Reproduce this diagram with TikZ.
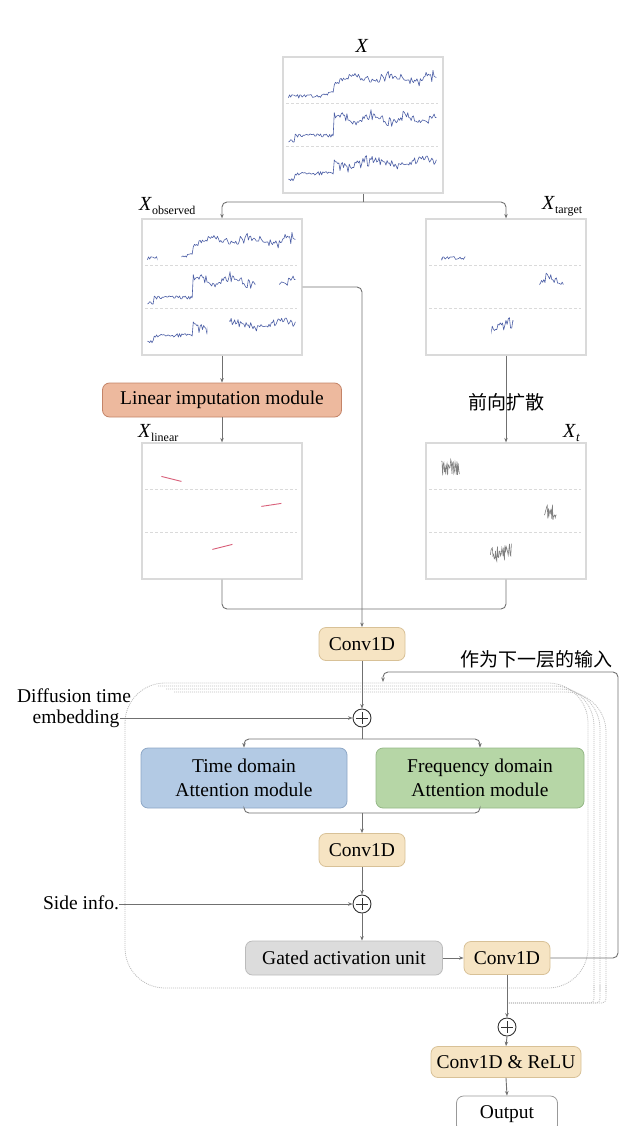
\documentclass[tikz,border=0pt]{standalone}
\usepackage{fontspec}
\setmainfont{Liberation Serif}
\newfontfamily\cjk{Noto Sans CJK SC}
\usetikzlibrary{arrows.meta,calc}
\definecolor{linec}{HTML}{707070}
\definecolor{orangef}{HTML}{EDB99E}
\definecolor{oranged}{HTML}{C48468}
\definecolor{convf}{HTML}{F6E4C3}
\definecolor{convd}{HTML}{D8C197}
\definecolor{bluef}{HTML}{B3CAE4}
\definecolor{blued}{HTML}{8EA7C6}
\definecolor{greenf}{HTML}{B6D6A6}
\definecolor{greend}{HTML}{95B887}
\definecolor{grayf}{HTML}{DCDCDC}
\definecolor{grayd}{HTML}{BBBBBB}
\definecolor{panelb}{HTML}{DADADA}
\definecolor{serc}{HTML}{4C5FA6}
\definecolor{framec}{HTML}{BDBDBD}
\definecolor{redc}{HTML}{D9607A}
\newcommand{\seriesrows}{%
  \pgfmathsetseed{1234}%
  \draw[ser] plot[domain=6:154,samples=130] (\x,{ifthenelse(\x<51,40+1.8*rand+ifthenelse(\x>40,-3,0),22+3*sin(9*\x)+6*rand*abs(rand)+2*rand)});
  \draw[ser] plot[domain=6:154,samples=130] (\x,{ifthenelse(\x<51,79+1.8*rand+ifthenelse(\x<12,5,0),62+3*sin(11*\x)+6*rand*abs(rand)+2*rand)});
  \draw[ser] plot[domain=6:154,samples=130] (\x,{ifthenelse(\x<51,117+1.8*rand+ifthenelse(\x<12,6,0),106+3*sin(7*\x)+7*rand*abs(rand)+2*rand)});
}
\newcommand{\seps}{%
  \draw[sepl] (4,47) -- (156,47);
  \draw[sepl] (4,90) -- (156,90);
}
\newcommand{\gapclip}{\clip (16,8) rectangle (40,46) (114,50) rectangle (138,89) (66,93) rectangle (88,133);}
\begin{document}
\begin{tikzpicture}[x=1pt,y=-1pt,
  txt/.style={font=\fontsize{19.5}{24}\selectfont, inner sep=0pt},
  box/.style={rounded corners=7pt, minimum height=33pt, inner sep=0pt, line width=0.8pt, align=center, font=\fontsize{19.5}{24}\selectfont},
  conv/.style={box, fill=convf, draw=convd, minimum width=86pt},
  panel/.style={draw=panelb, line width=1.2pt, fill=white, minimum width=160pt, minimum height=136pt, inner sep=0pt},
  conn/.style={draw=linec, line width=0.9pt},
  arr/.style={conn, -{Stealth[length=4.5pt,width=3.5pt]}},
  ser/.style={serc, line width=0.6pt, line join=round},
  sepl/.style={draw=panelb, line width=0.8pt, dash pattern=on 3pt off 2pt},
  framel/.style={draw=framec, line width=0.8pt, dash pattern=on 1pt off 1pt},
  sumnode/.style={circle, draw=black!80, line width=0.9pt, minimum size=18pt, inner sep=0pt, fill=white,
    path picture={\draw[black!80,line width=0.9pt] ([yshift=-3pt]path picture bounding box.north) -- ([yshift=3pt]path picture bounding box.south) ([xshift=3pt]path picture bounding box.west) -- ([xshift=-3pt]path picture bounding box.east);}},
]
\useasboundingbox (0,0) rectangle (628,1126);

% ---------- panels ----------
\node[panel] (pX) at (363,125) {};
\node[panel] (pObs) at (222,287) {};
\node[panel] (pTgt) at (506,287) {};
\node[panel] (pLin) at (222,511) {};
\node[panel] (pT) at (506,511) {};

\begin{scope}[shift={(pX.north west)}]
  \seps \seriesrows
\end{scope}
\begin{scope}[shift={(pObs.north west)}]
  \seps \seriesrows
  \fill[white] (16,8) rectangle (40,46) (114,50) rectangle (138,89) (66,93) rectangle (88,133);
\end{scope}
\begin{scope}[shift={(pTgt.north west)}]
  \seps
  \begin{scope}\gapclip \seriesrows\end{scope}
\end{scope}
\begin{scope}[shift={(pLin.north west)}]
  \seps
  \draw[redc, line width=0.9pt] (20,34) -- (40,39);
  \draw[redc, line width=0.9pt] (120,64) -- (140,61);
  \draw[redc, line width=0.9pt] (71,107) -- (91,102);
\end{scope}
\begin{scope}[shift={(pT.north west)}]
  \seps
  \pgfmathsetseed{99}
  \draw[gray, line width=0.6pt] plot[domain=16:34,samples=30] (\x,{25+8*rand});
  \draw[gray, line width=0.6pt] plot[domain=119:131,samples=22] (\x,{70+8*rand});
  \draw[gray, line width=0.6pt] plot[domain=65:86,samples=34] (\x,{110+9*rand});
\end{scope}

% ---------- labels ----------
\node[txt, anchor=base] (lX) at (362,53) {\fontsize{20}{24}\selectfont\textit{X}};
\node[txt, anchor=base west] (lObs) at (139,210) {\fontsize{20}{24}\selectfont\textit{X}\raisebox{-4pt}{\fontsize{12}{12}\selectfont observed}};
\node[txt, anchor=base west] (lTgt) at (542,209) {\fontsize{20}{24}\selectfont\textit{X}\raisebox{-4pt}{\fontsize{12}{12}\selectfont target}};
\node[txt, anchor=base west] (lLin) at (138,437) {\fontsize{20}{24}\selectfont\textit{X}\raisebox{-4pt}{\fontsize{12}{12}\selectfont linear}};
\node[txt, anchor=base west] (lT) at (563,437) {\fontsize{20}{24}\selectfont\textit{X}\raisebox{-4pt}{\fontsize{13}{13}\selectfont\textit{t}}};

% ---------- top connectors ----------
\coordinate (j1) at (363,202);
\draw[conn] (pX.south) -- (j1);
\draw[arr, rounded corners=5pt] (j1) -| (pObs.north);
\draw[arr, rounded corners=5pt] (j1) -| (pTgt.north);

\node[box, fill=orangef, draw=oranged, minimum width=239pt, minimum height=34pt] (lin) at (222,400) {Linear imputation module};
\draw[arr] (pObs.south) -- (lin.north);
\draw[arr] (lin.south) -- (pLin.north);

\draw[arr] (pTgt.south) -- (pT.north);
\node[txt, font=\cjk\fontsize{19}{22}\selectfont] (fwd) at (506,402) {前向扩散};

% ---------- Conv1D top ----------
\node[conv] (conv1) at (362,644) {Conv1D};
\draw[arr, rounded corners=5pt] (pObs.east) -| (conv1.north);
\coordinate (m1) at (362,609);
\draw[conn, rounded corners=5pt] (pLin.south) |- (m1) -| (pT.south);

% ---------- stacked frames ----------
\foreach \k in {1,2,3}{
  \draw[framel, rounded corners=40pt] (150+8*\k,683+3*\k) -- (588+6*\k,683+3*\k) -- (588+6*\k,992);
  \draw[framel, rounded corners=4pt] (588+6*\k,985) -- (588+6*\k,1003) -- (508,1003);
}
\draw[framel, rounded corners=40pt] (125,683) rectangle (588,988);

\node[txt, font=\cjk\fontsize{19}{22}\selectfont] (nxt) at (536,659) {作为下一层的输入};

% ---------- block ----------
\node[sumnode] (sum1) at (362,718) {};
\draw[arr] (conv1.south) -- (sum1.north);
\node[txt] (diff) at (74,696) {Diffusion time};
\node[txt] (emb) at (76,719) {embedding};
\draw[arr] (emb.east |- sum1) -- (sum1.west);

\node[box, fill=bluef, draw=blued, minimum width=206pt, minimum height=60pt] (tdom) at (244,778) {Time domain\\Attention module};
\node[box, fill=greenf, draw=greend, minimum width=208pt, minimum height=60pt] (fdom) at (480,778) {Frequency domain\\Attention module};
\coordinate (b1) at (362,739);
\draw[conn] (sum1.south) -- (b1);
\draw[arr, rounded corners=5pt] (b1) -| (tdom.north);
\draw[arr, rounded corners=5pt] (b1) -| (fdom.north);

\node[conv] (conv2) at (362,850) {Conv1D};
\coordinate (b2) at (362,813);
\draw[conn, rounded corners=5pt] (tdom.south) |- (b2) -| (fdom.south);
\draw[arr] (b2) -- (conv2.north);

\node[sumnode] (sum2) at (362,904) {};
\draw[arr] (conv2.south) -- (sum2.north);
\node[txt] (side) at (81,903) {Side info.};
\draw[arr] (side.east |- sum2) -- (sum2.west);

\node[box, fill=grayf, draw=grayd, minimum width=197pt, minimum height=34pt] (gated) at (344,958) {Gated activation unit};
\draw[arr] (sum2.south) -- (sum2.south |- gated.north);
\node[conv] (conv3) at (507,958) {Conv1D};
\draw[arr] (gated.east) -- (conv3.west);

\coordinate (fbc) at (618,672);
\coordinate (fbend) at (383,682);
\draw[arr, rounded corners=5pt] (conv3.east) -| (fbc) -| (fbend);

% ---------- output ----------
\node[sumnode] (sum3) at (507,1027) {};
\draw[arr] (conv3.south) -- (sum3.north);
\node[conv, minimum width=150pt, minimum height=31pt] (relu) at (506,1062) {Conv1D \& ReLU};
\draw[arr] (sum3.south) -- (relu.north);
\node[box, fill=white, draw=gray!80, minimum width=101pt, minimum height=36pt] (out) at (507,1114) {Output};
\draw[arr] (relu.south) -- (out.north);
\end{tikzpicture}
\end{document}
